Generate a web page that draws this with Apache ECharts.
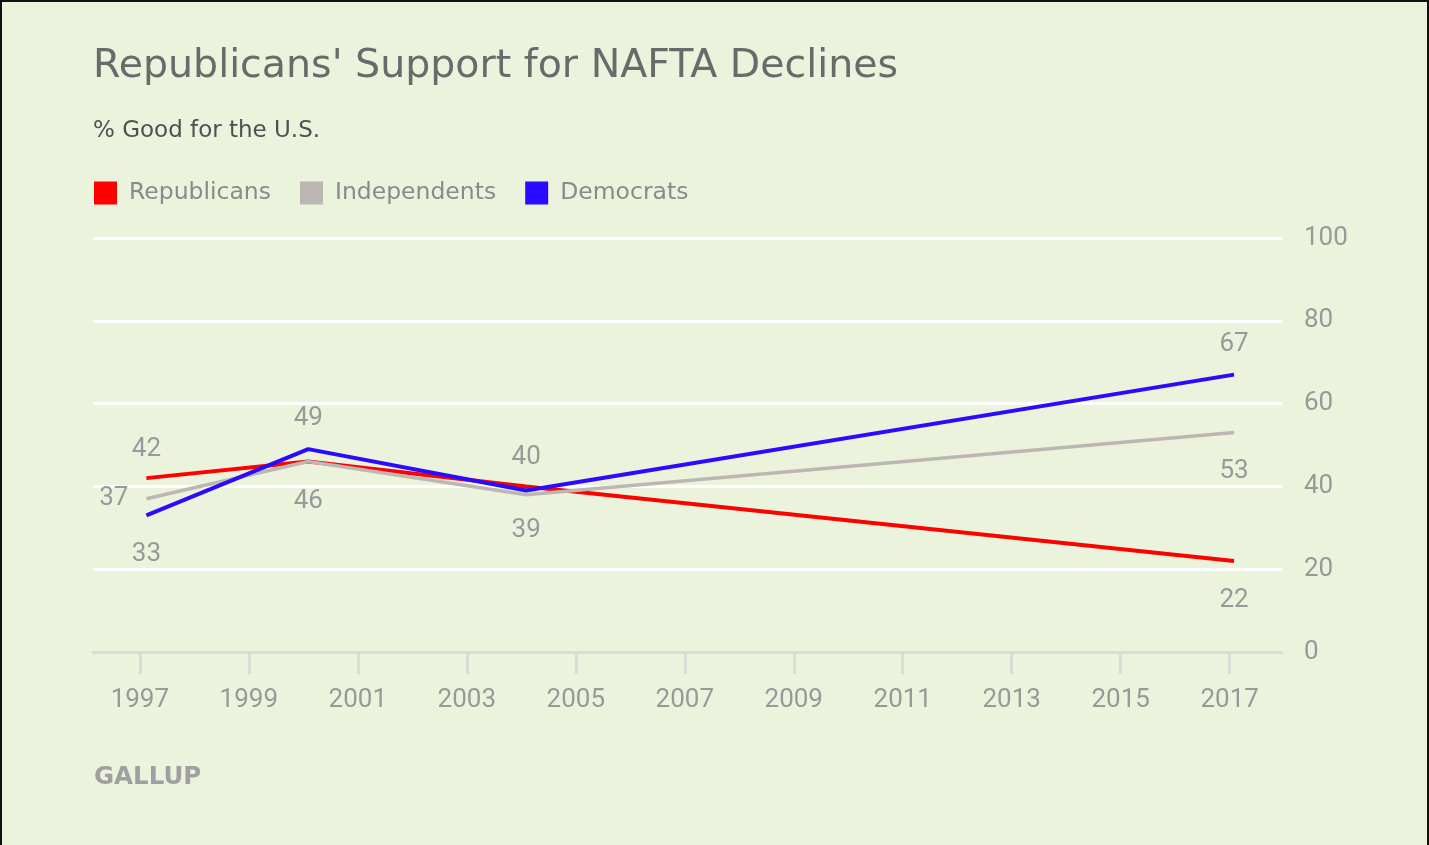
<!DOCTYPE html>
<html>
<head>
<meta charset="utf-8">
<script src="https://cdn.jsdelivr.net/npm/echarts@6/dist/echarts.min.js"></script>
<style>
  html, body { margin: 0; padding: 0; background: #ecf3dd; }
  #wrap { position: absolute; left: 0; top: 0; width: 1429px; height: 845px; box-sizing: border-box;
          border-left: 2px solid #111; border-top: 2px solid #111; border-right: 2px solid #111; }
  #chart { width: 1425px; height: 843px; }
</style>
</head>
<body>
<div id="wrap"><div id="chart"></div></div>
<script>
// ---- data ----
const years = [1997.12, 2000.09, 2004.09, 2017.08];
const republicans = [42, 46, 40, 22];
const independents = [37, 46, 38, 53];
const democrats = [33, 49, 39, 67];
const xTickYears = [1997, 1999, 2001, 2003, 2005, 2007, 2009, 2011, 2013, 2015, 2017];

// ---- label placement (style, not data) ----
const labelCfg = {
  Republicans: [{pos: 'top', d: 16}, null, {pos: 'top', d: 16}, {pos: 'bottom', d: 27}],
  Independents: [{pos: 'left', d: 18}, {pos: 'bottom', d: 27}, null, {pos: 'bottom', d: 26}],
  Democrats: [{pos: 'bottom', d: 26}, {pos: 'top', d: 18}, {pos: 'bottom', d: 27}, {pos: 'top', d: 17}]
};

function buildData(name, vals) {
  return vals.map((v, i) => {
    const c = labelCfg[name][i];
    return {
      value: [years[i], v],
      label: c ? { show: true, position: c.pos, distance: c.d } : { show: false }
    };
  });
}

const colors = { Republicans: '#ff0000', Independents: '#bdb7b3', Democrats: '#2a0bff' };
const widths = { Republicans: 4, Independents: 3.5, Democrats: 4 };

function mkSeries(name, vals, z) {
  return {
    name: name,
    type: 'line',
    data: buildData(name, vals),
    z: z,
    symbol: 'circle',
    symbolSize: 0.1,
    itemStyle: { color: colors[name] },
    lineStyle: { color: colors[name], width: widths[name] },
    label: { color: '#999', fontSize: 26, fontFamily: 'Roboto' },
    emphasis: { disabled: true },
    animation: false
  };
}

const chart = echarts.init(document.getElementById('chart'));
chart.setOption({
  backgroundColor: '#ecf3dd',
  animation: false,
  textStyle: { fontFamily: 'Roboto' },
  title: [
    { text: "Republicans' Support for NAFTA Declines", left: 91, top: 45, padding: 0,
      textStyle: { fontSize: 39.5, fontWeight: 'normal', color: '#6a6a6a', fontFamily: 'DejaVu Sans' } },
    { text: '% Good for the U.S.', left: 91, top: 118, padding: 0,
      textStyle: { fontSize: 23, fontWeight: 'normal', color: '#505050', fontFamily: 'DejaVu Sans' } }
  ],
  legend: {
    left: 92, top: 179, padding: 0,
    icon: 'rect', itemWidth: 23, itemHeight: 23, itemGap: 29,
    textStyle: { fontSize: 23.5, color: '#8a8a8a', padding: [0, 0, 0, 7], fontFamily: 'DejaVu Sans' },
    data: ['Republicans', 'Independents', 'Democrats'],
    selectedMode: false
  },
  graphic: [
    { type: 'text', left: 92, top: 763,
      style: { text: 'GALLUP', fontSize: 24.5, fontWeight: 'bold', fill: '#a0a0a0', fontFamily: 'DejaVu Sans' } }
  ],
  grid: { left: 91, right: 145, top: 236, bottom: 193, containLabel: false },
  xAxis: {
    type: 'value',
    min: 1996.14, max: 2017.96,
    axisLine: { show: true, lineStyle: { color: '#dcdcd6', width: 3 } },
    axisTick: { show: true, customValues: xTickYears, length: 22, lineStyle: { color: '#dcdcd6', width: 3 } },
    axisLabel: { customValues: xTickYears, color: '#999', fontSize: 26, margin: 35, fontFamily: 'Roboto',
                 formatter: v => String(Math.round(v)) },
    splitLine: { show: false }
  },
  yAxis: {
    type: 'value',
    position: 'right',
    min: 0, max: 100, interval: 20,
    axisLine: { show: false },
    axisTick: { show: false },
    axisLabel: { color: '#999', fontSize: 26, margin: 22, fontFamily: 'Roboto' },
    splitLine: { show: true, lineStyle: { color: '#ffffff', width: 3 } }
  },
  series: [
    mkSeries('Republicans', republicans, 2),
    mkSeries('Independents', independents, 3),
    mkSeries('Democrats', democrats, 4)
  ]
});
</script>
</body>
</html>
